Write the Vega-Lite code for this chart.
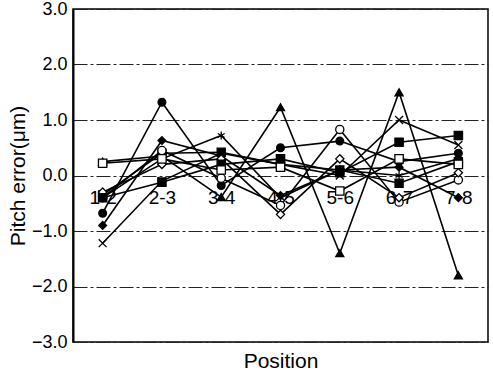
{
  "$schema": "https://vega.github.io/schema/vega-lite/v6.json",
  "width": 415,
  "height": 333,
  "autosize": {"type": "none"},
  "padding": {"left": 73, "top": 9, "right": 5, "bottom": 34},
  "background": "white",
  "config": {
    "view": {"stroke": "black", "strokeWidth": 1.5},
    "font": "Liberation Sans"
  },
  "data": {"values": [
    {"pos":"1-2","s":"S1","v":-0.68},{"pos":"2-3","s":"S1","v":1.32},{"pos":"3-4","s":"S1","v":-0.18},{"pos":"4-5","s":"S1","v":0.5},{"pos":"5-6","s":"S1","v":0.62},{"pos":"6-7","s":"S1","v":0.25},{"pos":"7-8","s":"S1","v":0.4},
    {"pos":"1-2","s":"S2","v":-0.9},{"pos":"2-3","s":"S2","v":0.63},{"pos":"3-4","s":"S2","v":0.35},{"pos":"4-5","s":"S2","v":-0.36},{"pos":"5-6","s":"S2","v":0.1},{"pos":"6-7","s":"S2","v":0.15},{"pos":"7-8","s":"S2","v":-0.4},
    {"pos":"1-2","s":"S3","v":-1.22},{"pos":"2-3","s":"S3","v":-0.1},{"pos":"3-4","s":"S3","v":0.4},{"pos":"4-5","s":"S3","v":0.2},{"pos":"5-6","s":"S3","v":0.0},{"pos":"6-7","s":"S3","v":1.0},{"pos":"7-8","s":"S3","v":0.55},
    {"pos":"1-2","s":"S4","v":-0.4},{"pos":"2-3","s":"S4","v":0.3},{"pos":"3-4","s":"S4","v":0.72},{"pos":"4-5","s":"S4","v":-0.4},{"pos":"5-6","s":"S4","v":0.1},{"pos":"6-7","s":"S4","v":0.0},{"pos":"7-8","s":"S4","v":0.3},
    {"pos":"1-2","s":"S5","v":0.25},{"pos":"2-3","s":"S5","v":0.35},{"pos":"3-4","s":"S5","v":-0.39},{"pos":"4-5","s":"S5","v":1.23},{"pos":"5-6","s":"S5","v":-1.4},{"pos":"6-7","s":"S5","v":1.5},{"pos":"7-8","s":"S5","v":-1.8},
    {"pos":"1-2","s":"S6","v":-0.35},{"pos":"2-3","s":"S6","v":0.4},{"pos":"3-4","s":"S6","v":0.42},{"pos":"4-5","s":"S6","v":0.2},{"pos":"5-6","s":"S6","v":0.1},{"pos":"6-7","s":"S6","v":-0.14},{"pos":"7-8","s":"S6","v":0.25},
    {"pos":"1-2","s":"S7","v":-0.4},{"pos":"2-3","s":"S7","v":0.45},{"pos":"3-4","s":"S7","v":-0.05},{"pos":"4-5","s":"S7","v":-0.54},{"pos":"5-6","s":"S7","v":0.83},{"pos":"6-7","s":"S7","v":-0.48},{"pos":"7-8","s":"S7","v":-0.08},
    {"pos":"1-2","s":"S8","v":-0.3},{"pos":"2-3","s":"S8","v":0.2},{"pos":"3-4","s":"S8","v":0.3},{"pos":"4-5","s":"S8","v":-0.7},{"pos":"5-6","s":"S8","v":0.3},{"pos":"6-7","s":"S8","v":-0.4},{"pos":"7-8","s":"S8","v":0.05},
    {"pos":"1-2","s":"S9","v":-0.4},{"pos":"2-3","s":"S9","v":-0.12},{"pos":"3-4","s":"S9","v":0.2},{"pos":"4-5","s":"S9","v":0.3},{"pos":"5-6","s":"S9","v":0.05},{"pos":"6-7","s":"S9","v":0.6},{"pos":"7-8","s":"S9","v":0.72},
    {"pos":"1-2","s":"S10","v":0.22},{"pos":"2-3","s":"S10","v":0.3},{"pos":"3-4","s":"S10","v":0.1},{"pos":"4-5","s":"S10","v":0.15},{"pos":"5-6","s":"S10","v":-0.28},{"pos":"6-7","s":"S10","v":0.3},{"pos":"7-8","s":"S10","v":0.2}
  ]},
  "encoding": {
    "x": {
      "field": "pos", "type": "ordinal",
      "scale": {"type": "point", "padding": 0.5},
      "axis": {
        "title": "Position", "titleFontSize": 21, "titleFont": "Liberation Sans", "titleFontWeight": "normal", "titleColor": "black", "titlePadding": 8,
        "labelAngle": 0, "labelFontSize": 19, "labelColor": "black", "labelPadding": -154,
        "ticks": false, "domain": false, "grid": false
      }
    },
    "y": {
      "field": "v", "type": "quantitative",
      "scale": {"domain": [-3, 3], "nice": false},
      "axis": {
        "title": "Pitch error(μm)", "titleFontSize": 21, "titleFontWeight": "normal", "titleColor": "black", "titlePadding": 3,
        "values": [-3, -2, -1, 0, 1, 2, 3], "format": ".1f",
        "labelFontSize": 18, "labelColor": "black", "labelPadding": 6,
        "ticks": false, "domain": true, "domainColor": "black", "domainWidth": 2,
        "grid": true, "gridColor": "#222", "gridWidth": 1, "gridDash": [14, 3, 3, 3]
      }
    }
  },
  "layer": [
    {
      "mark": {"type": "line", "color": "black", "strokeWidth": 1.6},
      "encoding": {"detail": {"field": "s", "type": "nominal"}}
    },
    {
      "mark": {"type": "point", "filled": true, "stroke": "black", "strokeWidth": 1.3, "opacity": 1},
      "encoding": {
        "shape": {"field": "s", "type": "nominal", "legend": null,
          "scale": {"domain": ["S1","S2","S3","S4","S5","S6","S7","S8","S9","S10"],
            "range": ["circle", "diamond", "M-1,-1L1,1M-1,1L1,-1", "M0,-1L0,1M-0.87,-0.5L0.87,0.5M-0.87,0.5L0.87,-0.5", "triangle-up", "square", "circle", "diamond", "square", "square"]}},
        "fill": {"field": "s", "type": "nominal", "legend": null,
          "scale": {"domain": ["S1","S2","S3","S4","S5","S6","S7","S8","S9","S10"],
            "range": ["black","black","black","black","black","black","white","white","black","white"]}},
        "size": {"field": "s", "type": "nominal", "legend": null,
          "scale": {"domain": ["S1","S2","S3","S4","S5","S6","S7","S8","S9","S10"],
            "range": [60, 70, 60, 70, 60, 130, 50, 60, 60, 90]}}
      }
    }
  ]
}
